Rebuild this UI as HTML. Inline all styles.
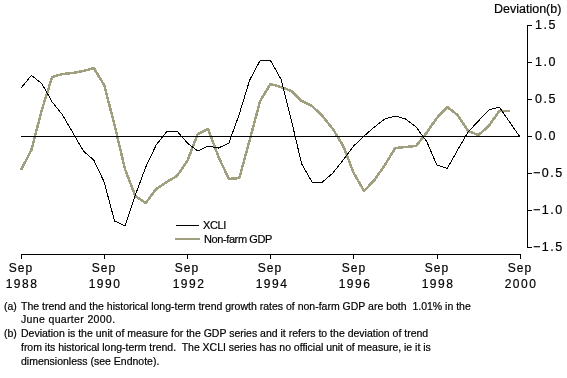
<!DOCTYPE html>
<html><head><meta charset="utf-8"><style>
html,body{margin:0;padding:0;background:#fff;width:567px;height:378px;overflow:hidden}
body{position:relative;font-family:"Liberation Sans",sans-serif;color:#000}
.t{position:absolute;white-space:nowrap;line-height:1;will-change:transform;-webkit-text-stroke:0.2px #000}
.yl{font-size:12.5px;letter-spacing:1.5px}
.xl{font-size:12px;text-align:center;width:40px}
.s{letter-spacing:1px}.yr{letter-spacing:1.5px}
.lg{font-size:11px;letter-spacing:-0.4px}
.dv{font-size:12.5px}
.fn{font-size:10.5px}
</style></head><body>
<svg width="567" height="378" viewBox="0 0 567 378" style="position:absolute;left:0;top:0">
<g shape-rendering="crispEdges" stroke="#000" stroke-width="1" fill="none">
<path d="M527.5 25 V247.5"/>
<path d="M527 25.5 H532"/>
<path d="M527 62.5 H532"/>
<path d="M527 99.5 H532"/>
<path d="M527 136.5 H532"/>
<path d="M527 173.5 H532"/>
<path d="M527 210.5 H532"/>
<path d="M527 247.5 H532"/>
<path d="M21 254.5 H520.5"/>
<path d="M21.5 254 V259"/>
<path d="M104.5 254 V259"/>
<path d="M187.5 254 V259"/>
<path d="M270.5 254 V259"/>
<path d="M353.5 254 V259"/>
<path d="M437.5 254 V259"/>
<path d="M520.5 254 V259"/>
<path d="M176 225.5 H199"/>
</g>
<path d="M175 239 H200" stroke="#a0a080" stroke-width="2" shape-rendering="crispEdges"/>
<polyline fill="none" stroke="#a0a080" stroke-width="2.5" stroke-linejoin="round" shape-rendering="crispEdges" points="21.00,170.00 31.40,150.00 41.79,110.00 52.19,77.00 62.58,74.00 72.98,73.00 83.38,71.00 93.77,68.00 104.17,85.00 114.56,125.00 124.96,169.00 135.35,196.00 145.75,203.00 156.15,189.00 166.54,182.00 176.94,176.00 187.33,161.00 197.73,134.00 208.12,129.00 218.52,157.00 228.92,179.00 239.31,178.00 249.71,140.00 260.10,101.00 270.50,84.00 280.90,87.00 291.29,91.00 301.69,101.00 312.08,106.00 322.48,116.00 332.88,129.00 343.27,146.00 353.67,173.00 364.06,191.00 374.46,180.00 384.85,165.00 395.25,148.00 405.65,147.00 416.04,146.00 426.44,133.00 436.83,118.00 447.23,107.00 457.62,115.00 468.02,131.00 478.42,135.00 488.81,126.00 499.21,111.00 509.60,111.00"/>
<path d="M21 136.5 H520" stroke="#000" stroke-width="1" shape-rendering="crispEdges"/>
<polyline fill="none" stroke="#000" stroke-width="1" shape-rendering="crispEdges" points="21.00,88.00 31.40,75.40 41.79,83.50 52.19,102.00 62.58,115.00 72.98,133.00 83.38,151.00 93.77,160.00 104.17,182.00 114.56,221.00 124.96,226.00 135.35,195.00 145.75,167.00 156.15,145.00 166.54,132.00 176.94,131.00 187.33,143.00 197.73,151.00 208.12,146.00 218.52,148.00 228.92,143.00 239.31,114.00 249.71,80.00 260.10,60.50 270.50,60.50 280.90,79.00 291.29,120.00 301.69,164.00 312.08,182.00 322.48,182.00 332.88,173.00 343.27,160.00 353.67,146.00 364.06,136.00 374.46,127.00 384.85,119.00 395.25,116.00 405.65,119.00 416.04,127.00 426.44,141.00 436.83,165.00 447.23,168.50 457.62,150.00 468.02,132.00 478.42,121.00 488.81,110.00 499.21,107.00 509.60,122.00 520.00,137.00"/>
</svg>
<div class="t yl" style="left:535px;top:19px">1.5</div>
<div class="t yl" style="left:535px;top:56px">1.0</div>
<div class="t yl" style="left:535px;top:93px">0.5</div>
<div class="t yl" style="left:535px;top:130px">0.0</div>
<div class="t yl" style="left:533px;top:167px">−0.5</div>
<div class="t yl" style="left:533px;top:204px">−1.0</div>
<div class="t yl" style="left:533px;top:241px">−1.5</div>
<div class="t dv" style="left:494px;top:3px">Deviation(b)</div>
<div class="t xl" style="left:0.8px;top:262px"><span class="s">Sep</span></div>
<div class="t xl" style="left:2.2px;top:278px"><span class="yr">1988</span></div>
<div class="t xl" style="left:84.0px;top:262px"><span class="s">Sep</span></div>
<div class="t xl" style="left:85.4px;top:278px"><span class="yr">1990</span></div>
<div class="t xl" style="left:167.1px;top:262px"><span class="s">Sep</span></div>
<div class="t xl" style="left:168.6px;top:278px"><span class="yr">1992</span></div>
<div class="t xl" style="left:250.3px;top:262px"><span class="s">Sep</span></div>
<div class="t xl" style="left:251.8px;top:278px"><span class="yr">1994</span></div>
<div class="t xl" style="left:333.5px;top:262px"><span class="s">Sep</span></div>
<div class="t xl" style="left:334.9px;top:278px"><span class="yr">1996</span></div>
<div class="t xl" style="left:416.6px;top:262px"><span class="s">Sep</span></div>
<div class="t xl" style="left:418.1px;top:278px"><span class="yr">1998</span></div>
<div class="t xl" style="left:499.8px;top:262px"><span class="s">Sep</span></div>
<div class="t xl" style="left:501.2px;top:278px"><span class="yr">2000</span></div>
<div class="t lg" style="left:203px;top:220px">XCLI</div>
<div class="t lg" style="left:204px;top:234px">Non-farm GDP</div>
<div class="t fn" style="left:4px;top:301px">(a)</div>
<div class="t fn" style="left:21px;top:301px">The trend and the historical long-term trend growth rates of non-farm GDP are both&nbsp; 1.01% in the</div>
<div class="t fn" style="left:21px;top:314px"><span style="letter-spacing:0.35px">June quarter 2000.</span></div>
<div class="t fn" style="left:4px;top:328px">(b)</div>
<div class="t fn" style="left:21px;top:328px">Deviation is the unit of measure for the GDP series and it refers to the deviation of trend</div>
<div class="t fn" style="left:21px;top:342px"><span style="letter-spacing:-0.02px">from its historical long-term trend.&nbsp; The XCLI series has no official unit of measure, ie it is</span></div>
<div class="t fn" style="left:21px;top:356px">dimensionless (see Endnote).</div>
</body></html>
